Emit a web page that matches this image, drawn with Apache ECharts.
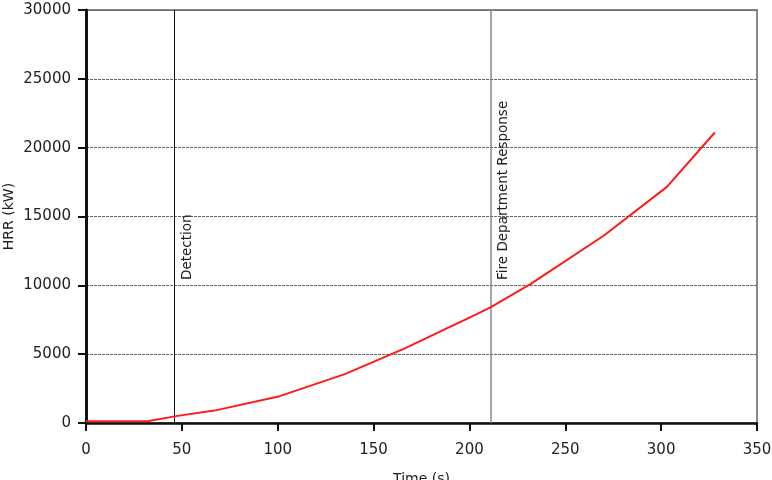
<!DOCTYPE html>
<html>
<head>
<meta charset="utf-8">
<title>HRR vs Time</title>
<script src="https://cdn.jsdelivr.net/npm/echarts@6/dist/echarts.min.js"></script>
<style>
    html, body { margin: 0; padding: 0; background: #fff; }
    #hrr_chart { width: 772px; height: 480px; }
</style>
</head>
<body>
<div id="hrr_chart"></div>
<script>

// Chart data
// ------------------------------

// Time (s) and heat release rate (kW)
var timeValues = [0, 32, 47, 67, 101, 135, 166, 200, 211, 232, 270, 303, 328];
var hrrValues = [120, 130, 500, 900, 1950, 3550, 5400, 7650, 8400, 10100, 13600, 17150, 21100];

// Event markers (s)
var eventNames = ['Detection', 'Fire Department Response'];
var eventTimes = [46, 211];

// Axis ticks
var xTicks = [0, 50, 100, 150, 200, 250, 300, 350];
var yTicks = [0, 5000, 10000, 15000, 20000, 25000, 30000];


// Setup module
// ------------------------------

var HrrChart = function() {

    var _hrrChart = function() {
        if (typeof echarts == 'undefined') {
            console.warn('Warning - echarts.min.js is not loaded.');
            return;
        }

        var chart_element = document.getElementById('hrr_chart');
        if (!chart_element) return;

        var chart = echarts.init(chart_element);

        var font = 'DejaVu Sans';
        var yMin = yTicks[0], yMax = yTicks[yTicks.length - 1];

        // Line colours for the two events
        var eventColors = ['#111', '#888'];

        // Vertical event lines with rotated labels
        var markData = eventTimes.map(function(t, i) {
            return [
                {
                    coord: [t, yMin],
                    lineStyle: { color: eventColors[i], width: i ? 1.5 : 1, type: 'solid' },
                    label: {
                        show: true,
                        formatter: eventNames[i],
                        position: 'insideStartBottom',
                        distance: [143, 6],
                        fontFamily: font,
                        fontSize: 13.5,
                        color: '#222'
                    }
                },
                { coord: [t, yMax] }
            ];
        });

        // Plain numbers, no thousands separator
        var plain = function(v) { return String(v); };

        chart.setOption({
            animation: false,
            textStyle: { fontFamily: font },
            grid: {
                left: 86,
                right: 15,
                top: 10,
                bottom: 57,
                outerBoundsMode: 'none',
                show: true,
                borderColor: '#888',
                borderWidth: 2
            },
            xAxis: {
                type: 'value',
                min: xTicks[0],
                max: xTicks[xTicks.length - 1],
                interval: 50,
                name: 'Time (s)',
                nameLocation: 'middle',
                nameGap: 49,
                nameMoveOverlap: false,
                nameTextStyle: { fontFamily: font, fontSize: 14, color: '#222' },
                axisLine: { show: true, onZero: false, lineStyle: { color: '#111', width: 2.5 } },
                axisTick: { show: true, length: 8, lineStyle: { color: '#111', width: 2 } },
                axisLabel: { margin: 20, fontFamily: font, fontSize: 15, color: '#222', formatter: plain },
                splitLine: { show: false }
            },
            yAxis: {
                type: 'value',
                min: yMin,
                max: yMax,
                interval: 5000,
                name: 'HRR (kW)',
                nameLocation: 'middle',
                nameGap: 70,
                nameMoveOverlap: false,
                nameTextStyle: { fontFamily: font, fontSize: 14, color: '#222' },
                axisLine: { show: true, lineStyle: { color: '#111', width: 3 } },
                axisTick: { show: true, length: 8, lineStyle: { color: '#111', width: 2 } },
                axisLabel: { margin: 15, fontFamily: font, fontSize: 15, color: '#222', formatter: plain },
                splitLine: { show: true, lineStyle: { color: '#666', width: 1, type: [3, 1] } }
            },
            series: [{
                type: 'line',
                data: timeValues.map(function(t, i) { return [t, hrrValues[i]]; }),
                showSymbol: false,
                lineStyle: { color: '#ff1a1a', width: 2 },
                itemStyle: { color: '#ff1a1a' },
                z: 3,
                markLine: {
                    silent: true,
                    symbol: ['none', 'none'],
                    z: 2,
                    data: markData
                }
            }]
        });
    };

    return {
        init: function() {
            _hrrChart();
        }
    };
}();


// Initialize module
// ------------------------------

document.addEventListener('DOMContentLoaded', function() {
    HrrChart.init();
});
</script>
</body>
</html>
